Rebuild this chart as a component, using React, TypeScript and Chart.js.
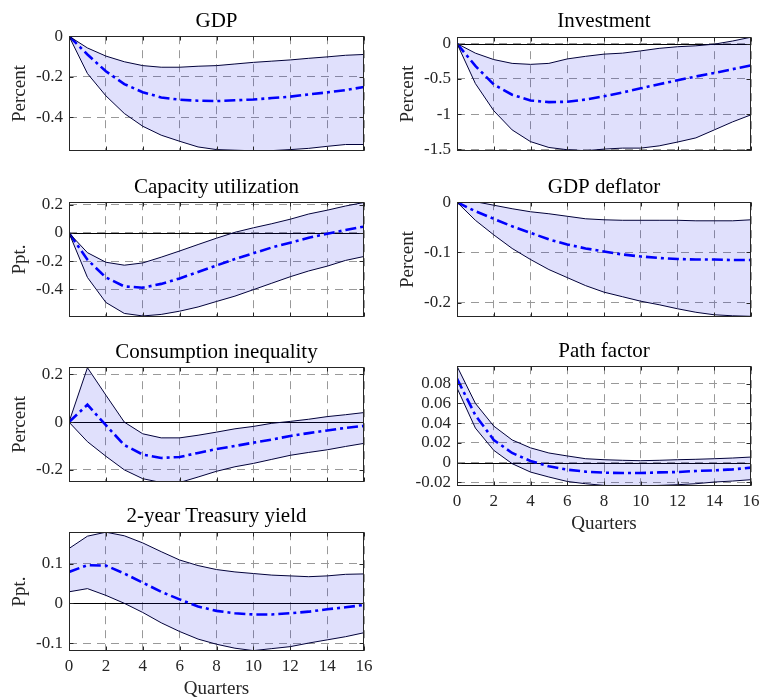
import React, { useEffect, useRef } from "react";
import { Chart, registerables } from "chart.js";

Chart.register(...registerables);

// ---------- data ----------
const quarters = [0, 1, 2, 3, 4, 5, 6, 7, 8, 9, 10, 11, 12, 13, 14, 15, 16];
const quarterTicks = [0, 2, 4, 6, 8, 10, 12, 14, 16];

const gdpMedian = [0, -0.09, -0.173, -0.236, -0.276, -0.302, -0.313, -0.318, -0.32, -0.316, -0.312, -0.305, -0.298, -0.287, -0.277, -0.266, -0.25];
const gdpUpper = [0, -0.058, -0.098, -0.126, -0.145, -0.153, -0.153, -0.148, -0.145, -0.137, -0.129, -0.123, -0.117, -0.109, -0.102, -0.094, -0.09];
const gdpLower = [0, -0.184, -0.294, -0.381, -0.444, -0.488, -0.518, -0.546, -0.559, -0.562, -0.565, -0.564, -0.559, -0.553, -0.543, -0.534, -0.534];
const gdpTicks = [-0.4, -0.2, 0];

const invMedian = [0, -0.317, -0.58, -0.725, -0.807, -0.83, -0.825, -0.793, -0.748, -0.694, -0.635, -0.576, -0.521, -0.467, -0.417, -0.363, -0.308];
const invUpper = [0, -0.136, -0.227, -0.281, -0.295, -0.281, -0.218, -0.181, -0.15, -0.136, -0.104, -0.068, -0.045, -0.032, -0.009, 0.036, 0.09];
const invLower = [0, -0.567, -0.952, -1.224, -1.39, -1.473, -1.505, -1.519, -1.496, -1.482, -1.482, -1.45, -1.396, -1.337, -1.224, -1.11, -1.01];
const invTicks = [-1.5, -1, -0.5, 0];

const capMedian = [0, -0.19, -0.316, -0.38, -0.389, -0.362, -0.323, -0.277, -0.231, -0.185, -0.144, -0.103, -0.069, -0.034, -0.005, 0.021, 0.046];
const capUpper = [0, -0.14, -0.208, -0.229, -0.213, -0.172, -0.128, -0.082, -0.037, 0.005, 0.037, 0.066, 0.098, 0.135, 0.162, 0.192, 0.217];
const capLower = [0, -0.316, -0.494, -0.572, -0.59, -0.579, -0.556, -0.526, -0.487, -0.449, -0.403, -0.357, -0.311, -0.27, -0.236, -0.195, -0.167];
const capTicks = [-0.4, -0.2, 0, 0.2];

const defMedian = [0, -0.018, -0.033, -0.048, -0.061, -0.074, -0.084, -0.092, -0.098, -0.104, -0.108, -0.111, -0.113, -0.114, -0.114, -0.115, -0.115];
const defUpper = [0, 0.001, -0.006, -0.013, -0.019, -0.023, -0.028, -0.033, -0.035, -0.036, -0.036, -0.036, -0.036, -0.037, -0.037, -0.037, -0.035];
const defLower = [0, -0.036, -0.065, -0.092, -0.114, -0.134, -0.15, -0.166, -0.179, -0.188, -0.197, -0.204, -0.212, -0.219, -0.224, -0.226, -0.227];
const defTicks = [-0.2, -0.1, 0];

const ciMedian = [0, 0.073, -0.013, -0.096, -0.136, -0.15, -0.146, -0.129, -0.113, -0.1, -0.086, -0.073, -0.058, -0.046, -0.035, -0.024, -0.016];
const ciUpper = [0, 0.228, 0.113, 0.0, -0.049, -0.066, -0.066, -0.055, -0.042, -0.028, -0.018, -0.005, 0.003, 0.012, 0.023, 0.031, 0.04];
const ciLower = [0, -0.082, -0.143, -0.2, -0.237, -0.253, -0.253, -0.23, -0.206, -0.187, -0.173, -0.156, -0.139, -0.127, -0.116, -0.102, -0.089];
const ciTicks = [-0.2, 0, 0.2];

const pfMedian = [0.085, 0.048, 0.023, 0.0098, 0.0017, -0.0037, -0.0071, -0.0091, -0.0101, -0.0105, -0.0105, -0.0098, -0.0095, -0.0084, -0.0078, -0.0068, -0.005];
const pfUpper = [0.0976, 0.06, 0.037, 0.023, 0.015, 0.0098, 0.0068, 0.004, 0.003, 0.0024, 0.002, 0.0024, 0.003, 0.0034, 0.004, 0.0047, 0.0057];
const pfLower = [0.0756, 0.035, 0.0125, -0.001, -0.0095, -0.0145, -0.019, -0.0213, -0.023, -0.0236, -0.0236, -0.023, -0.0223, -0.0213, -0.0196, -0.0186, -0.0172];
const pfTicks = [-0.02, 0, 0.02, 0.04, 0.06, 0.08];

const tyMedian = [0.079, 0.096, 0.095, 0.075, 0.052, 0.029, 0.01, -0.008, -0.019, -0.025, -0.028, -0.028, -0.025, -0.021, -0.015, -0.01, -0.004];
const tyUpper = [0.138, 0.169, 0.179, 0.17, 0.152, 0.13, 0.109, 0.095, 0.085, 0.079, 0.075, 0.071, 0.069, 0.067, 0.069, 0.073, 0.074];
const tyLower = [0.029, 0.037, 0.02, 0.0, -0.023, -0.049, -0.071, -0.09, -0.103, -0.113, -0.119, -0.114, -0.109, -0.1, -0.092, -0.084, -0.074];
const tyTicks = [-0.1, 0, 0.1];

// ---------- styles ----------
const FAMILY = "'Liberation Serif', 'Times New Roman', Times, serif";
const GRID = "#999999";
const DASH = [8, 6];
const AXIS = "#262626";
const BAND_LINE = "#00003a";
const BAND_FILL = "rgba(0, 0, 230, 0.12)";
const MEDIAN = "#0000ff";

type Spec = {
  title: string;
  yLabel: string;
  median: number[];
  upper: number[];
  lower: number[];
  yTicks: number[];
  yMin: number;
  yMax: number;
  left: number;
  top: number;
  width: number;
  height: number;
  padRight: number;
  padBottom: number;
  tTop: number;
  tBottom: number;
  showX: boolean;
  xHeight: number;
};

const LEFT_COL = { left: 0, width: 374, padRight: 10 };
const RIGHT_COL = { left: 388, width: 372, padRight: 9 };
const LEFT_COL_X = { left: 0, width: 380, padRight: 16 };
const RIGHT_COL_X = { left: 388, width: 379, padRight: 16 };

const specs: Spec[] = [
  { title: "GDP", yLabel: "Percent", median: gdpMedian, upper: gdpUpper, lower: gdpLower, yTicks: gdpTicks, yMin: -0.565, yMax: 0, ...LEFT_COL, top: 0, height: 167, padBottom: 12, tTop: 9, tBottom: 2, showX: false, xHeight: 0 },
  { title: "Investment", yLabel: "Percent", median: invMedian, upper: invUpper, lower: invLower, yTicks: invTicks, yMin: -1.52, yMax: 0.09, ...RIGHT_COL, top: 0, height: 167, padBottom: 12, tTop: 9, tBottom: 3, showX: false, xHeight: 0 },
  { title: "Capacity utilization", yLabel: "Ppt.", median: capMedian, upper: capUpper, lower: capLower, yTicks: capTicks, yMin: -0.596, yMax: 0.219, ...LEFT_COL, top: 166, height: 167, padBottom: 12, tTop: 9, tBottom: 2, showX: false, xHeight: 0 },
  { title: "GDP deflator", yLabel: "Percent", median: defMedian, upper: defUpper, lower: defLower, yTicks: defTicks, yMin: -0.228, yMax: 0, ...RIGHT_COL, top: 166, height: 167, padBottom: 12, tTop: 9, tBottom: 2, showX: false, xHeight: 0 },
  { title: "Consumption inequality", yLabel: "Percent", median: ciMedian, upper: ciUpper, lower: ciLower, yTicks: ciTicks, yMin: -0.25, yMax: 0.23, ...LEFT_COL, top: 331, height: 167, padBottom: 12, tTop: 9, tBottom: 2, showX: false, xHeight: 0 },
  { title: "Path factor", yLabel: "", median: pfMedian, upper: pfUpper, lower: pfLower, yTicks: pfTicks, yMin: -0.0236, yMax: 0.0976, ...RIGHT_COL_X, top: 330, height: 206, padBottom: 0, tTop: 9, tBottom: 2, showX: true, xHeight: 50 },
  { title: "2-year Treasury yield", yLabel: "Ppt.", median: tyMedian, upper: tyUpper, lower: tyLower, yTicks: tyTicks, yMin: -0.12, yMax: 0.179, ...LEFT_COL_X, top: 496, height: 205, padBottom: 0, tTop: 8, tBottom: 3, showX: true, xHeight: 50 },
];

const framePlugin = {
  id: "frame",
  beforeDatasetsDraw(chart: any) {
    const { ctx, chartArea: a, scales } = chart;
    const y = scales.y;
    if (y.min < 0 && y.max > 0) {
      const py = Math.round(y.getPixelForValue(0)) + 0.5;
      ctx.save();
      ctx.strokeStyle = "#000";
      ctx.lineWidth = 1;
      ctx.beginPath();
      ctx.moveTo(a.left, py);
      ctx.lineTo(a.right, py);
      ctx.stroke();
      ctx.restore();
    }
  },
  afterDatasetsDraw(chart: any) {
    const { ctx, chartArea: a, scales } = chart;
    const x = scales.x;
    const y = scales.y;
    const l = Math.round(a.left) + 0.5;
    const r = Math.round(a.right) - 0.5;
    const t = Math.round(a.top) + 0.5;
    const b = Math.round(a.bottom) - 0.5;
    ctx.save();
    ctx.strokeStyle = AXIS;
    ctx.lineWidth = 1;
    ctx.strokeRect(l, t, r - l, b - t);
    ctx.beginPath();
    x.ticks.forEach((tk: any) => {
      const px = Math.round(x.getPixelForValue(tk.value)) + 0.5;
      ctx.moveTo(px, b);
      ctx.lineTo(px, b - 4);
      ctx.moveTo(px, t);
      ctx.lineTo(px, t + 4);
    });
    y.ticks.forEach((tk: any) => {
      const py = Math.round(y.getPixelForValue(tk.value)) + 0.5;
      ctx.moveTo(l, py);
      ctx.lineTo(l + 4, py);
      ctx.moveTo(r, py);
      ctx.lineTo(r - 4, py);
    });
    ctx.stroke();
    ctx.restore();
  },
};

function Panel({ spec }: { spec: Spec }) {
  const ref = useRef<HTMLCanvasElement>(null);
  useEffect(() => {
    const pts = (arr: number[]) => arr.map((v, i) => ({ x: quarters[i], y: v }));
    const chart = new Chart(ref.current as HTMLCanvasElement, {
      type: "line",
      data: {
        datasets: [
          { data: pts(spec.lower), borderColor: BAND_LINE, borderWidth: 1, pointRadius: 0, fill: false, tension: 0 },
          { data: pts(spec.upper), borderColor: BAND_LINE, borderWidth: 1, pointRadius: 0, fill: "-1", backgroundColor: BAND_FILL, tension: 0 },
          { data: pts(spec.median), borderColor: MEDIAN, borderWidth: 2.6, borderDash: [11, 4, 3, 4], pointRadius: 0, fill: false, tension: 0 },
        ],
      },
      options: {
        animation: false,
        responsive: false,
        events: [],
        layout: { padding: { left: 0, right: spec.padRight, top: 0, bottom: spec.padBottom } },
        plugins: {
          legend: { display: false },
          tooltip: { enabled: false },
          title: {
            display: true,
            fullSize: false,
            text: spec.title,
            color: "#000",
            font: { family: FAMILY, size: 21, weight: "normal", lineHeight: 1.2 },
            padding: { top: spec.tTop, bottom: spec.tBottom },
          },
        },
        scales: {
          x: {
            type: "linear",
            min: 0,
            max: 16,
            afterBuildTicks: (s: any) => {
              s.ticks = quarterTicks.map((v) => ({ value: v }));
            },
            afterFit: (s: any) => {
              s.height = spec.xHeight;
            },
            grid: { color: GRID, lineWidth: 1, drawTicks: false, borderDash: DASH },
            border: { display: false, dash: DASH },
            ticks: {
              display: spec.showX,
              color: AXIS,
              font: { family: FAMILY, size: 17, lineHeight: 1.2 },
              padding: 5,
              autoSkip: false,
              maxRotation: 0,
              callback: (v: any) => String(v),
            },
            title: {
              display: spec.showX,
              text: "Quarters",
              color: AXIS,
              font: { family: FAMILY, size: 19, lineHeight: 1.2 },
              padding: { top: 0, bottom: 1 },
            },
          },
          y: {
            type: "linear",
            min: spec.yMin,
            max: spec.yMax,
            afterBuildTicks: (s: any) => {
              s.ticks = spec.yTicks.map((v) => ({ value: v }));
            },
            afterFit: (s: any) => {
              s.width = 69;
            },
            grid: { color: GRID, lineWidth: 1, drawTicks: false, borderDash: DASH },
            border: { display: false, dash: DASH },
            ticks: {
              color: AXIS,
              font: { family: FAMILY, size: 17, lineHeight: 1.2 },
              padding: 6,
              autoSkip: false,
              callback: (v: any) => String(v),
            },
            title: {
              display: spec.yLabel !== "",
              text: spec.yLabel,
              color: AXIS,
              font: { family: FAMILY, size: 19, lineHeight: 1.2 },
              padding: { top: 9, bottom: 0 },
            },
          },
        },
      } as any,
      plugins: [framePlugin],
    });
    return () => chart.destroy();
  }, [spec]);
  return (
    <canvas
      ref={ref}
      width={spec.width}
      height={spec.height}
      style={{ position: "absolute", left: spec.left, top: spec.top, width: spec.width, height: spec.height }}
    />
  );
}

export default function App() {
  return (
    <div style={{ position: "absolute", left: 0, top: 0, width: 760, height: 697, overflow: "hidden", background: "#fff" }}>
      {specs.map((s) => (
        <Panel key={s.title} spec={s} />
      ))}
    </div>
  );
}
